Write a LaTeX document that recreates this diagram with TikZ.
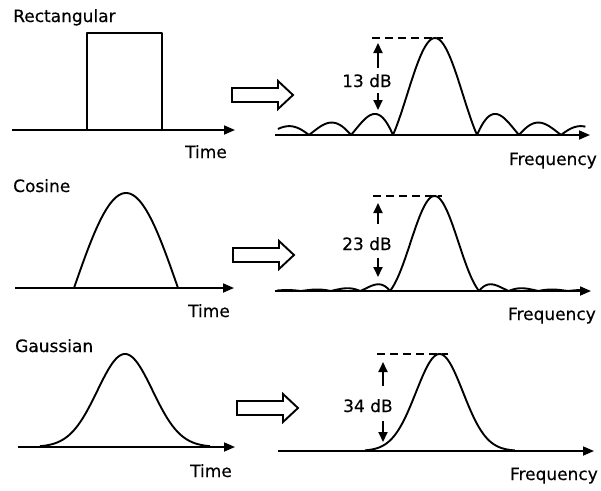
\documentclass[tikz,border=0pt]{standalone}
\usepackage{fontspec}
\setmainfont{DejaVu Sans}[FakeBold=0.4]
\usetikzlibrary{arrows.meta}
\tikzset{
  curve/.style={line width=1.9pt, line join=round},
  axis/.style={line width=1.7pt, -{Triangle[length=11pt,width=9pt]}},
  dbarrow/.style={line width=1.9pt, -{Triangle[length=10pt,width=9pt]}},
  peakline/.style={line width=1.6pt, dash pattern=on 8pt off 5pt},
  lbl/.style={inner sep=0pt, font=\fontsize{17}{20}\selectfont},
  fatarrow/.pic={
    \draw[line width=1.9pt, line join=miter] (0,-7) -- (46,-7) -- (46,-14) -- (61,0)
      -- (46,14) -- (46,7) -- (0,7) -- cycle;
  }
}
\begin{document}
\begin{tikzpicture}[x=1pt,y=-1pt]
\useasboundingbox[fill=white] (0,0) rectangle (601,490);

% ---------------- Row 1: Rectangular ----------------
\node[lbl, anchor=base west] (rect) at (13,22) {Rectangular};
\coordinate (t1s) at (12,130);
\coordinate (t1e) at (235,130);
\draw[axis] (t1s) -- (t1e);
\draw[curve] (87,130) -- (87,33) -- (162,33) -- (162,130);
\node[lbl, anchor=base west] (time1) at (185,158) {Time};
\pic at (232,95) {fatarrow};
\coordinate (f1s) at (275,135);
\coordinate (f1e) at (590,135);
\draw[axis] (f1s) -- (f1e);
\draw[curve] plot[domain=-11.75:11.25, samples=231]
  ({435+42*\x/pi}, {135 - 97*abs(sin(\x r)/\x)});
\draw[peakline] (372,38) -- (443,38);
\node[lbl, anchor=base west] (db1) at (342,87) {13 dB};
\coordinate (u1a) at (378,68); \coordinate (u1b) at (378,43);
\coordinate (d1a) at (378,93); \coordinate (d1b) at (378,110);
\draw[dbarrow] (u1a) -- (u1b);
\draw[dbarrow] (d1a) -- (d1b);
\node[lbl, anchor=base east] (freq1) at (597,165) {Frequency};

% ---------------- Row 2: Cosine ----------------
\node[lbl, anchor=base west] (cos) at (13,192) {Cosine};
\coordinate (t2s) at (15,288);
\coordinate (t2e) at (234,288);
\draw[axis] (t2s) -- (t2e);
\draw[curve] plot[domain=74:178, samples=80]
  (\x, {288 - 95*cos(180*(\x-126)/104)});
\node[lbl, anchor=base west] (time2) at (188,317) {Time};
\pic at (233,255) {fatarrow};
\coordinate (f2s) at (275,291);
\coordinate (f2e) at (591,291);
\draw[axis] (f2s) -- (f2e);
\draw[curve] plot[domain=-5.305:5.09, samples=298]
  ({434.5+29.7*\x}, {291 - 95*abs(cos(180*\x)/(1-4*\x*\x))});
\draw[peakline] (373,196) -- (442,196);
\node[lbl, anchor=base west] (db2) at (342,250) {23 dB};
\coordinate (u2a) at (378,224); \coordinate (u2b) at (378,203);
\coordinate (d2a) at (378,258); \coordinate (d2b) at (378,277);
\draw[dbarrow] (u2a) -- (u2b);
\draw[dbarrow] (d2a) -- (d2b);
\node[lbl, anchor=base east] (freq2) at (596,320) {Frequency};

% ---------------- Row 3: Gaussian ----------------
\node[lbl, anchor=base west] (gauss) at (15,352) {Gaussian};
\coordinate (t3s) at (18,447);
\coordinate (t3e) at (235,447);
\draw[axis] (t3s) -- (t3e);
\draw[curve] plot[domain=40:210, samples=120]
  (\x, {447 - 93*exp(-0.5*((\x-125)/27.6)^2)});
\node[lbl, anchor=base west] (time3) at (190,477) {Time};
\pic at (237,408) {fatarrow};
\coordinate (f3s) at (278,451);
\coordinate (f3e) at (594,451);
\draw[axis] (f3s) -- (f3e);
\draw[curve] plot[domain=365:515, samples=120]
  (\x, {451 - 97*exp(-0.5*((\x-439.5)/23.5)^2)});
\draw[peakline] (377,354) -- (448,354);
\node[lbl, anchor=base west] (db3) at (343,412) {34 dB};
\coordinate (u3a) at (383,386); \coordinate (u3b) at (383,362);
\coordinate (d3a) at (383,421); \coordinate (d3b) at (383,442);
\draw[dbarrow] (u3a) -- (u3b);
\draw[dbarrow] (d3a) -- (d3b);
\node[lbl, anchor=base east] (freq3) at (598,480) {Frequency};
\end{tikzpicture}
\end{document}
